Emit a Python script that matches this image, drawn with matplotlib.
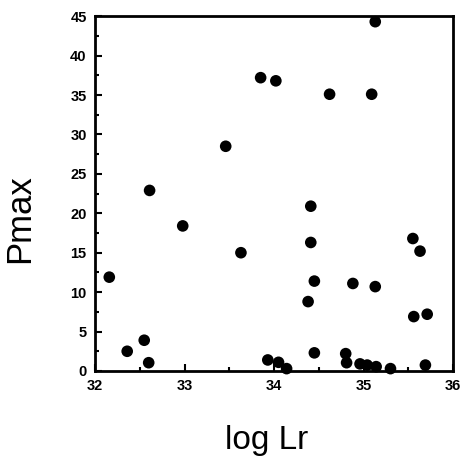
import matplotlib.pyplot as plt
import numpy as np

# Data
log_lr = [32.61, 32.98, 33.63, 32.16, 32.55, 32.36, 32.60, 33.93, 34.05, 34.14,
          33.85, 34.02, 33.46, 35.13, 34.62, 35.09,
          34.41, 34.41, 34.45, 34.38, 34.88, 35.13, 35.55, 35.63, 35.56, 35.71,
          34.45, 34.80, 34.81, 34.96, 35.04, 35.14, 35.30, 35.69]
pmax = [22.9, 18.4, 15.0, 11.9, 3.9, 2.5, 1.05, 1.4, 1.1, 0.3,
        37.2, 36.8, 28.5, 44.3, 35.1, 35.1,
        20.9, 16.3, 11.4, 8.8, 11.1, 10.7, 16.8, 15.2, 6.9, 7.2,
        2.3, 2.2, 1.05, 0.9, 0.75, 0.55, 0.3, 0.75]

x_ticks = [32, 33, 34, 35, 36]
y_ticks = [0, 5, 10, 15, 20, 25, 30, 35, 40, 45]

plt.rcParams['font.family'] = 'Liberation Sans'

fig = plt.figure(figsize=(4.61, 4.62), dpi=100)
ax = fig.add_axes([0.206, 0.197, 0.777, 0.768])

ax.scatter(log_lr, pmax, s=70, color='black', edgecolors='none', clip_on=False, zorder=3)

ax.set_xlim(32, 36)
ax.set_ylim(0, 45)
ax.set_xticks(x_ticks)
ax.set_yticks(y_ticks)
ax.set_xticks(np.arange(32, 36.01, 0.5), minor=True)
ax.set_yticks(np.arange(0, 45.01, 2.5), minor=True)
ax.tick_params(which='both', direction='in', width=1.5)
ax.tick_params(which='major', length=5, labelsize=10.5, pad=6)
ax.tick_params(which='minor', length=3)
for lab in ax.get_xticklabels() + ax.get_yticklabels():
    lab.set_fontweight('bold')

for sp in ax.spines.values():
    sp.set_linewidth(2)

ax.set_xlabel('log Lr', fontsize=24, va='center')
ax.set_ylabel('Pmax', fontsize=25, va='center')
ax.xaxis.set_label_coords(0.48, -0.195)
ax.yaxis.set_label_coords(-0.21, 0.43)

plt.savefig('out.png', dpi=100)
